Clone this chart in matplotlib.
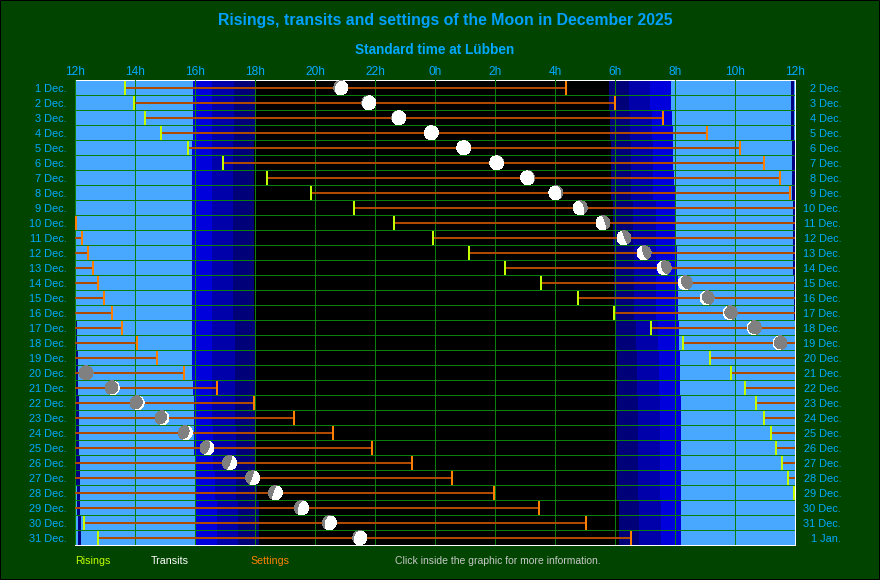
"""Risings, transits and settings of the Moon, December 2025."""
import numpy as np
import matplotlib
matplotlib.use("Agg")
import matplotlib.pyplot as plt
from matplotlib.path import Path
from matplotlib.patches import PathPatch, Circle, Rectangle
from matplotlib.transforms import Affine2D, ScaledTranslation

nan = float("nan")
plt.rcParams["font.family"] = ["Liberation Sans", "DejaVu Sans"]

# all times are hours after noon of the row's day
left_days = [f"{d} Dec." for d in range(1, 32)]
right_days = [f"{d} Dec." for d in range(2, 32)] + ["1 Jan."]
hour_labels = ["12h", "14h", "16h", "18h", "20h", "22h", "0h", "2h", "4h", "6h", "8h", "10h", "12h"]

rise = [1.64, 1.95, 2.32, 2.87, 3.75, 4.92, 6.38, 7.85, 9.28, 10.62, 11.92, 13.12, 14.32, 15.52, 16.74, 17.97,
        19.18, 20.25, 21.15, 21.85, 22.32, 22.68, 22.95, 23.18, 23.35, 23.55, 23.75, 23.97, nan, 0.28, 0.75]
sets = [16.37, 17.98, 19.58, 21.04, 22.17, 22.97, 23.48, 23.82, nan, 0.03, 0.22, 0.42, 0.58, 0.75, 0.95, 1.22,
        1.55, 2.04, 2.71, 3.62, 4.72, 5.95, 7.28, 8.58, 9.88, 11.22, 12.55, 13.95, 15.45, 17.02, 18.52]
transit = [8.85, 9.78, 10.78, 11.87, 12.95, 14.05, 15.08, 16.02, 16.83, 17.59, 18.29, 18.96, 19.63, 20.33, 21.06,
           21.83, 22.63, 23.49, nan, 0.36, 1.23, 2.06, 2.89, 3.67, 4.39, 5.14, 5.91, 6.67, 7.54, 8.47, 9.48]
# lit fraction, positive waxing (lit right), negative waning (lit left)
phase = [0.85, 0.92, 0.97, 1.0, -0.99, -0.96, -0.91, -0.84, -0.71, -0.59, -0.47, -0.36, -0.26, -0.17, -0.10, -0.05,
         -0.02, -0.01, nan, 0.0, 0.02, 0.06, 0.11, 0.19, 0.28, 0.38, 0.48, 0.59, 0.69, 0.78, 0.86]

sunset = [3.92] * 4 + [3.88] * 16 + [3.92, 3.95, 3.95, 3.95, 3.95, 3.98, 3.98, 3.98, 4.02, 4.02, 4.02]
dusk_civil = [4.57] * 4 + [4.55] * 12 + [4.57] * 7 + [4.60] * 3 + [4.66] * 2 + [4.72] * 3
dusk_naut = [5.29] * 4 + [5.27] * 12 + [5.32] * 7 + [5.35] * 3 + [5.37] * 2 + [5.42] * 3
dusk_astro = [5.98] * 4 + [5.97] * 12 + [5.99] * 7 + [6.02] * 3 + [6.04] * 2 + [6.12] * 3
dawn_astro = [17.78] * 2 + [17.82] * 2 + [17.85] * 4 + [17.93] * 3 + [17.95] * 5 + [18.0] * 2 + [18.04] * 3 + [18.07] * 7 + [18.12] * 3
dawn_naut = [18.45] * 2 + [18.48] * 2 + [18.52] * 4 + [18.59] * 3 + [18.63] * 5 + [18.68] * 2 + [18.72] * 3 + [18.75] * 7 + [18.79] * 3
dawn_civil = [19.17] * 2 + [19.21] * 2 + [19.25] * 4 + [19.34] * 3 + [19.37] * 5 + [19.42] * 2 + [19.45] * 3 + [19.48] * 7 + [19.52] * 3
sunrise = [19.85] * 2 + [19.88] + [19.92] * 3 + [19.96] + [20.0] * 4 + [20.05] * 2 + [20.08] * 3 + [20.12] * 2 + [20.15] * 3 + [20.18] * 10
sun_noon = [23.85] * 4 + [23.88] * 4 + [23.92] * 5 + [23.95] * 3 + [-0.06, -0.05, -0.03, -0.02, -0.01, 0.0, 0.0, 0.01,
            0.02, 0.03, 0.03, 0.04, 0.05, 0.08, 0.08]

BG = "#004400"
TEXT = "#00A8FF"
SKY = "#48A8FF"
BLUE1, BLUE2, BLUE3 = "#0000DD", "#0000AA", "#000078"
GRID = "#0A800A"
PATH = "#B04A00"
RISE = "#C4FF00"
SET = "#FF8000"
PX = 0.72  # one pixel in points at dpi 100

rows = np.arange(31) + 0.5
fig = plt.figure(figsize=(8.8, 5.8), dpi=100, facecolor=BG)
ax = fig.add_axes([75.3 / 880, 34.7 / 580, 720 / 880, 465 / 580], facecolor="black")

# day and twilight bands
bands = [(0, sunset, SKY), (sunset, dusk_civil, BLUE1), (dusk_civil, dusk_naut, BLUE2), (dusk_naut, dusk_astro, BLUE3),
         (dawn_astro, dawn_naut, BLUE3), (dawn_naut, dawn_civil, BLUE2), (dawn_civil, sunrise, BLUE1), (sunrise, 24, SKY)]
for start, end, color in bands:
    start = np.asarray(start, dtype=float)
    end = np.asarray(end, dtype=float)
    ax.barh(rows, end - start, left=start, height=1.0, color=color, linewidth=0, antialiased=False, zorder=1)
ax.barh(rows, 0.11, left=sun_noon, height=1.0, color="#000080", linewidth=0, antialiased=False, zorder=1.5)

# grid
ax.set_xticks(np.arange(0, 25, 2), hour_labels)
ax.grid(axis="x", color=GRID, linewidth=PX, zorder=2)
ax.hlines(np.arange(1, 31), 0, 24, color=GRID, linewidth=PX, zorder=2)
ax.set_axisbelow(False)

# moon above the horizon
for y, r, s in zip(rows, rise, sets):
    if np.isnan(s):
        spans = [(r, 24)]
    elif np.isnan(r):
        spans = [(0, s)]
    elif s < r:
        spans = [(0, s), (r, 24)]
    else:
        spans = [(r, s)]
    for x0, x1 in spans:
        ax.plot([x0, x1], [y, y], color=PATH, linewidth=2 * PX, solid_capstyle="butt", antialiased=False, zorder=3)
ax.vlines(rise, rows - 0.44, rows + 0.45, color=RISE, linewidth=2 * PX, antialiased=False, zorder=4)
ax.vlines(sets, rows - 0.44, rows + 0.45, color=SET, linewidth=2 * PX, antialiased=False, zorder=4)


def lit_path(frac, angle):
    t = np.linspace(-np.pi / 2, np.pi / 2, 40)
    limb = np.column_stack([np.cos(t), np.sin(t)])
    term = np.column_stack([(1 - 2 * frac) * np.cos(t[::-1]), np.sin(t[::-1])])
    verts = Affine2D().rotate_deg(angle).transform(np.vstack([limb, term]))
    return Path(np.vstack([verts, verts[0]]), closed=True)


# moon symbols at transit, sized in pixels
for y, x, p in zip(rows, transit, phase):
    if np.isnan(x):
        continue
    tr = Affine2D().scale(7.0) + ScaledTranslation(x, y, ax.transData)
    ax.add_patch(Circle((0, 0), 1, transform=tr, facecolor="#808080", edgecolor="none", zorder=5, antialiased=False))
    if abs(p) > 0:
        angle = -20 if p > 0 else 200
        ax.add_patch(PathPatch(lit_path(abs(p), angle), transform=tr, facecolor="white", edgecolor="none",
                               zorder=6, antialiased=False))

ax.set_xlim(0, 24)
ax.set_ylim(31, 0)
ax.xaxis.tick_top()
ax.set_yticks(rows, left_days)
ax.tick_params(axis="x", length=0, pad=1.5, labelsize=8.6, labelcolor=TEXT)
ax.tick_params(axis="y", length=0, pad=6, labelsize=7.9, labelcolor=TEXT)

ax_r = ax.twinx()
ax_r.set_ylim(31, 0)
ax_r.set_yticks(rows, right_days, ha="right")
ax_r.tick_params(axis="y", length=0, pad=33, labelsize=7.9, labelcolor=TEXT)

for a in (ax, ax_r):
    for spine in a.spines.values():
        spine.set_color("white")
        spine.set_linewidth(PX)
ax_r.set_zorder(ax.get_zorder() - 1)
ax.patch.set_visible(True)

fig.text(445 / 880, 1 - 20 / 580, "Risings, transits and settings of the Moon in December 2025", color="#00A0FF",
         fontsize=11.4, fontweight="bold", ha="center", va="center")
fig.text(434.5 / 880, 1 - 50 / 580, "Standard time at Lübben", color=TEXT, fontsize=9.8, fontweight="bold",
         ha="center", va="center")

legend_y = 1 - 561 / 580
fig.text(75 / 880, legend_y, "Risings", color=RISE, fontsize=7.7, va="center")
fig.text(151 / 880, legend_y, "Transits", color="white", fontsize=7.7, va="center")
fig.text(250 / 880, legend_y, "Settings", color=SET, fontsize=7.7, va="center")
fig.text(395 / 880, legend_y, "Click inside the graphic for more information.", color="#C8C8C8", fontsize=7.5, va="center")

fig.add_artist(Rectangle((0, 0), 1, 1, transform=fig.transFigure, fill=False, edgecolor="black", linewidth=PX * 2))

fig.savefig("out.png", dpi=100, facecolor=BG)
plt.close(fig)
